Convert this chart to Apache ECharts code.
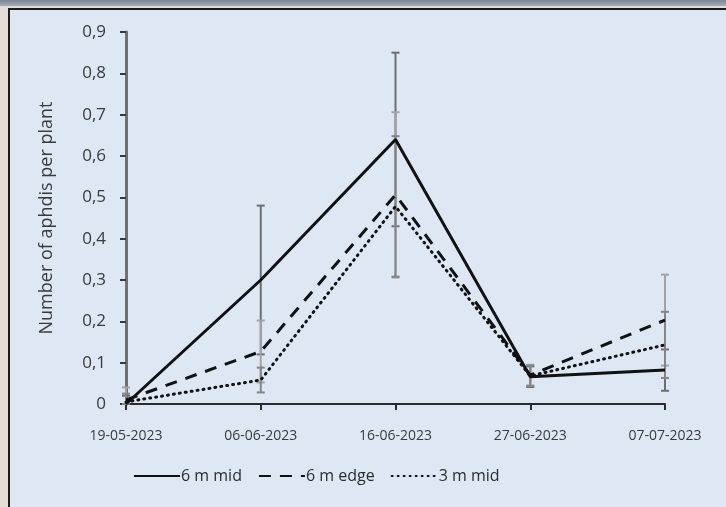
<!DOCTYPE html>
<html><head><meta charset="utf-8">
<script src="https://cdn.jsdelivr.net/npm/echarts@6/dist/echarts.min.js"></script>
<style>
html,body{margin:0;padding:0;background:#e3ddd6;}
#top{position:absolute;left:0;top:0;width:726px;height:6px;background:linear-gradient(#7d8792,#a4acb5);}
#frame{position:absolute;left:8px;top:8px;width:718px;height:499px;background:#dde8f4;border-left:2px solid #1c1c1c;border-top:2px solid #1c1c1c;box-sizing:border-box;}
#chart{position:absolute;left:0;top:0;width:726px;height:507px;}
</style></head>
<body>
<div id="top"></div>
<div id="frame"></div>
<div id="chart"></div>
<script>
const categories = ['19-05-2023','06-06-2023','16-06-2023','27-06-2023','07-07-2023'];
const seriesNames = ['6 m mid','6 m edge','3 m mid'];
const mid6 = [0.00, 0.30, 0.64, 0.066, 0.082];
const edge6 = [0.01, 0.127, 0.506, 0.07, 0.203];
const mid3 = [0.005, 0.058, 0.478, 0.068, 0.143];
const errMid6 = [0.02, 0.18, 0.21, 0.025, 0.05];
const errEdge6 = [0.03, 0.075, 0.20, 0.025, 0.11];
const errMid3 = [0.02, 0.03, 0.17, 0.025, 0.08];
const yTicks = ['0','0,1','0,2','0,3','0,4','0,5','0,6','0,7','0,8','0,9'];

const font = "'Open Sans',sans-serif";
const chart = echarts.init(document.getElementById('chart'), null, {renderer:'canvas'});

function errData(vals, errs){
  return vals.map((v,i)=>[i, Math.max(0, v-errs[i]), v+errs[i]]);
}
function errSeries(vals, errs, color){
  return {
    type:'custom', silent:true, z:1, legendHoverLink:false,
    data: errData(vals, errs),
    renderItem: function(params, api){
      const x = api.value(0);
      const lo = api.coord([x, api.value(1)]);
      const hi = api.coord([x, api.value(2)]);
      const w = 4;
      const st = {stroke: color, lineWidth: 2};
      return {type:'group', children:[
        {type:'line', shape:{x1:lo[0],y1:lo[1],x2:hi[0],y2:hi[1]}, style:st},
        {type:'line', shape:{x1:lo[0]-w,y1:lo[1],x2:lo[0]+w,y2:lo[1]}, style:st},
        {type:'line', shape:{x1:hi[0]-w,y1:hi[1],x2:hi[0]+w,y2:hi[1]}, style:st}
      ]};
    }
  };
}
function lineSeries(name, vals, type, dash){
  return {
    name, type:'line', data: vals, symbol:'none', z:3,
    lineStyle:{color:'#111', width:3, type: dash || type, cap: type==='dotted'?'round':'butt'},
    itemStyle:{color:'#111'}
  };
}

chart.setOption({
  animation:false,
  backgroundColor:'transparent',
  grid:{left:126, right:61, top:32, bottom:103},
  xAxis:{
    type:'category', data: categories, boundaryGap:false,
    axisLine:{lineStyle:{color:'#2b2b2b', width:2}},
    axisTick:{show:true, length:6, lineStyle:{color:'#2b2b2b', width:2}},
    axisLabel:{color:'#3a3a3a', fontSize:14, fontFamily:font, margin:25}
  },
  yAxis:{
    type:'value', min:0, max:0.9, interval:0.1,
    name:'Number of aphdis per plant', nameLocation:'middle', nameGap:70, nameRotate:90,
    nameTextStyle:{color:'#3a3a3a', fontSize:18, fontFamily:font},
    splitLine:{show:false},
    axisLine:{show:true, lineStyle:{color:'#707070', width:3}},
    axisTick:{show:true, length:6, lineStyle:{color:'#3a3a3a', width:2}},
    axisLabel:{color:'#3a3a3a', fontSize:17, fontFamily:font, margin:20,
      formatter:(v)=>yTicks[Math.round(v*10)]}
  },
  legend:{
    bottom:18, left:128, itemWidth:46, itemHeight:14, itemGap:16,
    textStyle:{color:'#2b2b2b', fontSize:16, fontFamily:font, padding:[0,0,0,-4]},
    itemStyle:{opacity:0},
    data: seriesNames
  },
  series:[
    errSeries(mid6, errMid6, '#6e6e6e'),
    errSeries(edge6, errEdge6, '#a3a3a3'),
    errSeries(mid3, errMid3, '#858585'),
    lineSeries(seriesNames[0], mid6, 'solid'),
    lineSeries(seriesNames[1], edge6, 'dashed', [12,9]),
    lineSeries(seriesNames[2], mid3, 'dotted', [1,5])
  ]
});
</script>
</body></html>
